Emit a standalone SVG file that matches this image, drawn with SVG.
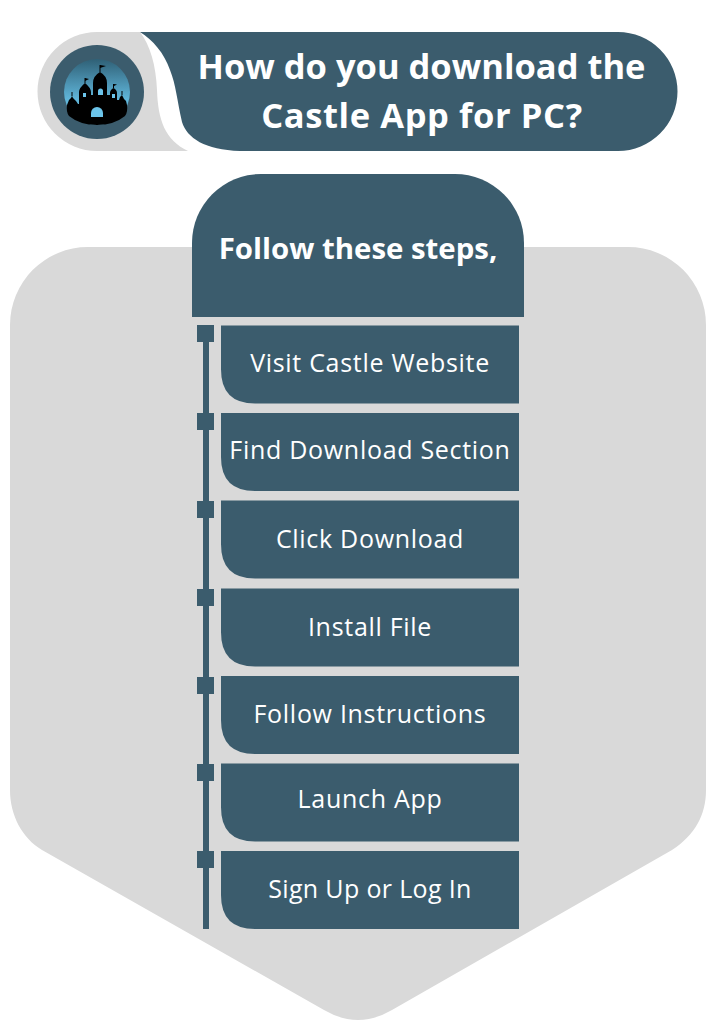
<svg xmlns="http://www.w3.org/2000/svg" width="715" height="1024" viewBox="0 0 715 1024">
<style>
.d{fill:#3b5c6d}
.g{fill:#d9d9d9}
.k{fill:#000}
.t{font-family:"Open Sans","Liberation Sans",sans-serif;fill:#fff;text-anchor:middle}
.h{font-size:34.500px;font-weight:700}
.s{font-size:25px;letter-spacing:.7px}
.c{stroke:#3b5c6d;stroke-width:6;fill:none}
</style>
<defs>
<linearGradient id="sky" x1="0" y1="0" x2="0" y2="1"><stop offset="0" stop-color="#2f6076"/><stop offset=".6" stop-color="#5fb4d8"/><stop offset="1" stop-color="#6cc4ea"/></linearGradient>
<path id="step" d="M221 0H519V78H255Q221 78 221 44Z"/>
</defs>
<path id="backdrop" class="g" d="M88 247H628A78 78 0 0 1 706 325V790C706 815 695 835 672 850L392 1010Q358 1030 324 1010L42 850C22 838 10 815 10 790V325A78 78 0 0 1 88 247Z"/>
<g id="logo">
<path class="g" d="M97 32H140C150 45 156 65 157 90C158 120 165 140 188 151H97A59.500 59.500 0 0 1 97 32Z"/>
<circle class="d" cx="97" cy="92" r="47"/>
<circle cx="97" cy="92" r="33" fill="url(#sky)"/>
<path class="k" d="M67 105L69 100L71 98L72 96L73 98L76 101L78 104H79V92Q79 88 85 83Q91 88 91 92V95H93V83Q93 76 100 72Q107 76 107 83V95H110V93Q110 90 113.500 88Q117 90 117 93V100H119L120 97L122 95L124 99L126 101L127 105Q128 112 125 116Q114 125 97 125Q80 125 69 116Q66 112 67 105Z"/>
<path d="M100 65V72M85 78V83M113.500 84V88M72 92V96M122 91V95" stroke="#000" stroke-width="1" fill="none"/>
<path class="k" d="M100 65L106 66L100 68ZM85 78L89 79L85 81ZM114 84L117 84.500L114 86Z"/>
<path d="M91 117V113A6 6 0 0 1 103 113V117Z" fill="#6cc4ea"/>
<path d="M98 95V91A2.500 2.500 0 0 1 103 91V95Z" fill="#6cc4ea"/>
<rect x="83" y="93" width="3" height="4" fill="#6cc4ea"/>
<rect x="112" y="94" width="3" height="4" fill="#6cc4ea"/>
</g>
<g id="title">
<path class="d" d="M140 32H618A59.500 59.500 0 0 1 618 151H240C205 150 187 138 182 122C177 100 176 85 170 70C164 53 153 40 140 32Z"/>
<text class="t h" x="421.500" y="79">How do you download the</text>
<text class="t h" x="422" y="128" letter-spacing=".6">Castle App for PC?</text>
</g>
<g id="header">
<path class="d" d="M192 317V243A69 69 0 0 1 261 174H455A69 69 0 0 1 524 243V317Z"/>
<text class="t" x="358" y="259" font-size="29.400" font-weight="700">Follow these steps,</text>
</g>
<g id="connectors">
<path class="c" d="M206 334V929"/>
<rect class="d" x="197" y="325" width="17" height="17"/>
<rect class="d" x="197" y="413" width="17" height="17"/>
<rect class="d" x="197" y="501" width="17" height="17"/>
<rect class="d" x="197" y="589" width="17" height="17"/>
<rect class="d" x="197" y="677" width="17" height="17"/>
<rect class="d" x="197" y="764" width="17" height="17"/>
<rect class="d" x="197" y="851" width="17" height="17"/>
</g>
<g id="step1"><use href="#step" class="d" y="325.500"/><text class="t s" x="370" y="372">Visit Castle Website</text></g>
<g id="step2"><use href="#step" class="d" y="413"/><text class="t s" x="370" y="459">Find Download Section</text></g>
<g id="step3"><use href="#step" class="d" y="500.500"/><text class="t s" x="370" y="548">Click Download</text></g>
<g id="step4"><use href="#step" class="d" y="588.500"/><text class="t s" x="370" y="636">Install File</text></g>
<g id="step5"><use href="#step" class="d" y="676"/><text class="t s" x="370" y="723">Follow Instructions</text></g>
<g id="step6"><use href="#step" class="d" y="763.500"/><text class="t s" x="370" y="808">Launch App</text></g>
<g id="step7"><use href="#step" class="d" y="851"/><text class="t s" x="370" y="898" style="letter-spacing:.35px">Sign Up or Log In</text></g>
</svg>
